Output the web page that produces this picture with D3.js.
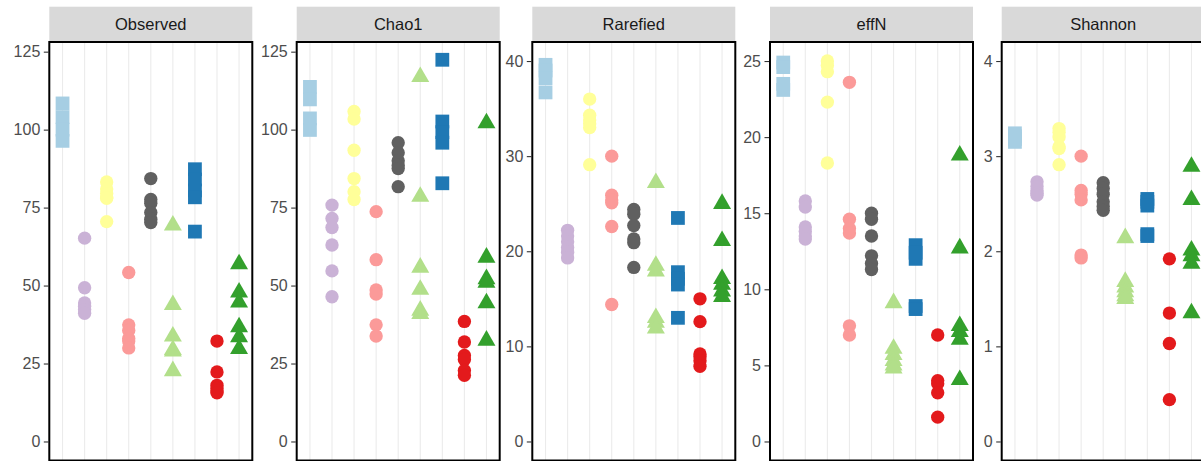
<!DOCTYPE html>
<html>
<head>
<meta charset="utf-8">
<script src="https://cdn.jsdelivr.net/npm/d3@7"></script>
<style>
  body { margin: 0; background: #fff; }
  svg { display: block; font-family: "Liberation Sans", Arial, sans-serif; }
</style>
</head>
<body>
<svg id="chart" width="1201" height="461"></svg>
<script>
// groups (x categories), colours and shapes
const groups = ["G1", "G2", "G3", "G4", "G5", "G6", "G7", "G8", "G9"];
const groupColors = ["#A6CEE3", "#CAB2D6", "#FFFF99", "#FB9A99", "#606060", "#B2DF8A", "#1F78B4", "#E31A1C", "#33A02C"];
const groupShapes = ["square", "circle", "circle", "circle", "circle", "triangle", "square", "circle", "triangle"];

const metrics = ["Observed", "Chao1", "Rarefied", "effN", "Shannon"];

// values per group, one array per metric
const observed = [
  [108.4, 104, 100, 96.4],
  [65.2, 49.3, 44.4, 43.4, 42.3, 41.1],
  [83.2, 81, 79.5, 78.2, 78, 70.5],
  [54.2, 37.4, 35.6, 33, 32.2, 30],
  [84.3, 77.6, 76.4, 73.4, 71.3, 70.2],
  [69.3, 43.8, 33.7, 29.4, 28.9, 22.6],
  [87.3, 84, 80.5, 78.3, 67.3],
  [32.2, 22.3, 18, 17, 16.2, 15.6],
  [56.9, 47.8, 44.6, 36.7, 33.5, 29.7]
];
const chao1 = [
  [113.7, 109.7, 103.6, 99.9],
  [75.8, 71.5, 68.6, 63, 54.7, 46.4],
  [105.8, 103.4, 93.4, 84.3, 80.1, 77.6],
  [73.7, 58.3, 48.6, 47.3, 37.4, 33.8],
  [95.8, 92.6, 90, 88.5, 87.5, 81.7],
  [116.9, 78.5, 55.8, 48.7, 42, 40.9],
  [122.4, 102.6, 99.2, 95.8, 82.8],
  [38.5, 31.9, 27.6, 26.3, 22.8, 21.2],
  [102.1, 59, 52.1, 51, 44.4, 32.4]
];
const rarefied = [
  [39.6, 39.0, 38.2, 36.7],
  [22.2, 21.6, 21.0, 20.4, 19.9, 19.3],
  [36.0, 34.3, 33.8, 33.4, 33.0, 29.1],
  [30.0, 25.9, 25.4, 25.1, 22.6, 14.4],
  [24.4, 23.9, 22.7, 21.3, 20.9, 18.3],
  [27.2, 18.5, 17.9, 13.0, 12.5, 11.9],
  [23.5, 17.8, 17.1, 16.5, 13.0],
  [15.0, 12.6, 9.2, 8.9, 8.5, 7.9],
  [25.0, 21.1, 17.1, 16.5, 15.8, 15.2]
];
const effN = [
  [24.9, 24.6, 23.5, 23.1],
  [15.8, 15.4, 14.1, 13.8, 13.5, 13.3],
  [25.0, 24.7, 24.3, 22.3, 18.3],
  [23.6, 14.6, 14.0, 13.7, 7.6, 7.0],
  [15.0, 14.6, 13.5, 12.2, 11.7, 11.3],
  [9.1, 6.1, 5.7, 5.3, 5.0, 4.8],
  [12.9, 12.4, 12.0, 8.9, 8.7],
  [7.0, 4.0, 3.8, 3.2, 1.6],
  [18.8, 12.7, 7.6, 7.2, 6.7, 4.05]
];
const shannon = [
  [3.24, 3.21, 3.18, 3.15],
  [2.73, 2.68, 2.64, 2.61, 2.59],
  [3.29, 3.25, 3.2, 3.1, 3.08, 2.91],
  [3.0, 2.64, 2.6, 2.54, 1.96, 1.93],
  [2.72, 2.66, 2.6, 2.52, 2.47, 2.43],
  [2.14, 1.68, 1.62, 1.57, 1.53, 1.5],
  [2.55, 2.52, 2.48, 2.18, 2.16],
  [1.92, 1.35, 1.03, 0.44],
  [2.89, 2.54, 2.01, 1.95, 1.87, 1.35]
];

// y ticks and y limits (before 5% expansion) per metric
const yTicks = [
  [0, 25, 50, 75, 100, 125],
  [0, 25, 50, 75, 100, 125],
  [0, 10, 20, 30, 40],
  [0, 5, 10, 15, 20, 25],
  [0, 1, 2, 3, 4]
];
const yLimits = [[0, 122], [0, 122], [0, 40], [0, 25], [0, 4]];

const allValues = [observed, chao1, rarefied, effN, shannon];

///////////// layout /////////////
const svg = d3.select("#chart");
const panelLeft = [49.3, 296.7, 532.3, 770, 1001.7];
const panelW = 203;
const stripTop = 6.7, panelTop = 42, panelBottom = 460.5;

const symbolType = { square: d3.symbolSquare, circle: d3.symbolCircle, triangle: d3.symbolTriangle };
const symbolSize = { square: 190, circle: 140, triangle: 140 };

metrics.forEach(function(m, i) {
  const x0 = panelLeft[i];
  const g = svg.append("g");

  const lim = yLimits[i];
  const pad = (lim[1] - lim[0]) * 0.05;
  const y = d3.scaleLinear()
    .domain([lim[0] - pad, lim[1] + pad])
    .range([panelBottom, panelTop]);

  const x = d3.scalePoint()
    .domain(groups)
    .range([x0, x0 + panelW])
    .padding(0.6);

  // strip
  g.append("rect")
    .attr("x", x0).attr("y", stripTop)
    .attr("width", panelW).attr("height", panelTop - stripTop)
    .attr("fill", "#D9D9D9");
  g.append("text")
    .attr("x", x0 + panelW / 2).attr("y", (stripTop + panelTop) / 2)
    .attr("dy", "0.35em")
    .attr("text-anchor", "middle")
    .attr("font-size", "16.5px")
    .attr("fill", "#1A1A1A")
    .text(m);

  // grid
  g.selectAll(".grid")
    .data(groups)
    .enter().append("line")
    .attr("x1", d => x(d)).attr("x2", d => x(d))
    .attr("y1", panelTop).attr("y2", panelBottom)
    .attr("stroke", "#EBEBEB").attr("stroke-width", 1.1);

  // points
  const pts = [];
  allValues[i].forEach(function(vals, gi) {
    vals.forEach(v => pts.push({ g: gi, v: v }));
  });
  g.selectAll(".pt")
    .data(pts)
    .enter().append("path")
    .attr("transform", d => "translate(" + x(groups[d.g]) + "," + y(d.v) + ")")
    .attr("d", d => d3.symbol().type(symbolType[groupShapes[d.g]]).size(symbolSize[groupShapes[d.g]])())
    .attr("fill", d => groupColors[d.g]);

  // y axis
  const axis = d3.axisLeft(y)
    .tickValues(yTicks[i])
    .tickFormat(d3.format("d"))
    .tickSize(4.5).tickPadding(3.5);
  const ax = g.append("g")
    .attr("transform", "translate(" + (x0 - 1) + ",0)")
    .call(axis);
  ax.select(".domain").remove();
  ax.selectAll(".tick line").attr("stroke", "#333333").attr("stroke-width", 1.1);
  ax.selectAll(".tick text")
    .attr("font-size", "16px")
    .attr("fill", "#4D4D4D")
    .attr("font-family", "Liberation Sans, Arial, sans-serif");

  // panel border
  g.append("rect")
    .attr("x", x0).attr("y", panelTop)
    .attr("width", panelW).attr("height", panelBottom - panelTop)
    .attr("fill", "none")
    .attr("stroke", "#000").attr("stroke-width", 2);
});
</script>
</body>
</html>
